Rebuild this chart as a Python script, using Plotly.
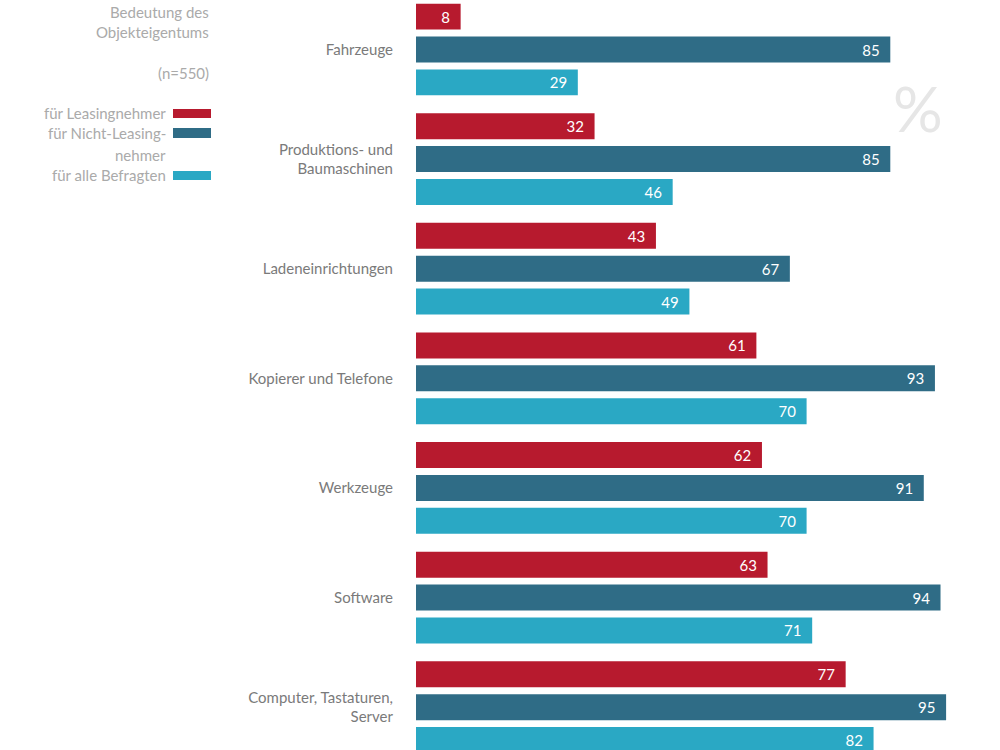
import plotly.graph_objects as go

categories = ["Fahrzeuge", "Produktions- und<br>Baumaschinen", "Ladeneinrichtungen",
              "Kopierer und Telefone", "Werkzeuge", "Software",
              "Computer, Tastaturen,<br>Server"]
leasingnehmer = [8, 32, 43, 61, 62, 63, 77]
nicht_leasingnehmer = [85, 85, 67, 93, 91, 94, 95]
alle_befragten = [29, 46, 49, 70, 70, 71, 82]

series_names = ["für Leasingnehmer", "für Nicht-Leasingnehmer", "für alle Befragten"]
series_colors = ["#B71A2E", "#2F6C86", "#2AA8C4"]
series_values = [leasingnehmer, nicht_leasingnehmer, alle_befragten]

FONT = "Lato"
ML, MR = 416, 26
PW = 1000 - ML - MR

fig = go.Figure()
for name, vals, col in zip(series_names, series_values, series_colors):
    fig.add_trace(go.Bar(
        y=categories, x=vals, name=name, orientation="h",
        marker=dict(color=col, line=dict(width=0)),
        text=[str(v) + "\u00a0\u00a0" for v in vals], textposition="inside",
        insidetextanchor="end", textangle=0,
        textfont=dict(color="white", size=15, family=FONT),
        cliponaxis=False,
    ))

fig.update_layout(
    width=1000, height=750,
    margin=dict(l=ML, r=MR, t=0, b=0),
    paper_bgcolor="white", plot_bgcolor="white",
    barmode="group", bargap=0.1, bargroupgap=0.21,
    showlegend=False,
    font=dict(family=FONT),
    uniformtext=dict(minsize=15, mode="show"),
)
fig.update_xaxes(range=[0, 100], visible=False, fixedrange=True)
fig.update_yaxes(
    type="category", range=[6.391, -0.4516],
    showgrid=False, zeroline=False, showline=False, ticks="",
    tickfont=dict(size=15, color="#7a7a7a", family=FONT),
    ticklabelstandoff=22,
)

def px_x(x):
    return (x - ML) / PW

def px_y(y):
    return 1 - y / 750.0

label_color = "#aaaaaa"
for txt, y, xr in [("Bedeutung des", 12, 211), ("Objekteigentums", 32, 211),
                   ("(n=550)", 73, 211),
                   ("für Leasingnehmer", 113, 168), ("für Nicht-Leasing-", 133, 168),
                   ("nehmer", 155, 168), ("für alle Befragten", 175, 168)]:
    fig.add_annotation(x=px_x(xr), y=px_y(y), xref="paper", yref="paper",
                       text=txt, showarrow=False, xanchor="right", yanchor="middle",
                       font=dict(size=15, color=label_color, family=FONT))

for col, y0, y1 in zip(series_colors, [109, 128, 171], [118, 138, 180]):
    fig.add_shape(type="rect", xref="paper", yref="paper",
                  x0=px_x(173), x1=px_x(211), y0=px_y(y1), y1=px_y(y0),
                  fillcolor=col, line=dict(width=0))

fig.add_annotation(x=px_x(918), y=px_y(108), xref="paper", yref="paper",
                   text="%", showarrow=False, xanchor="center", yanchor="middle",
                   font=dict(size=62, color="#e6e6e6", family=FONT))

fig.write_html("out.html")
